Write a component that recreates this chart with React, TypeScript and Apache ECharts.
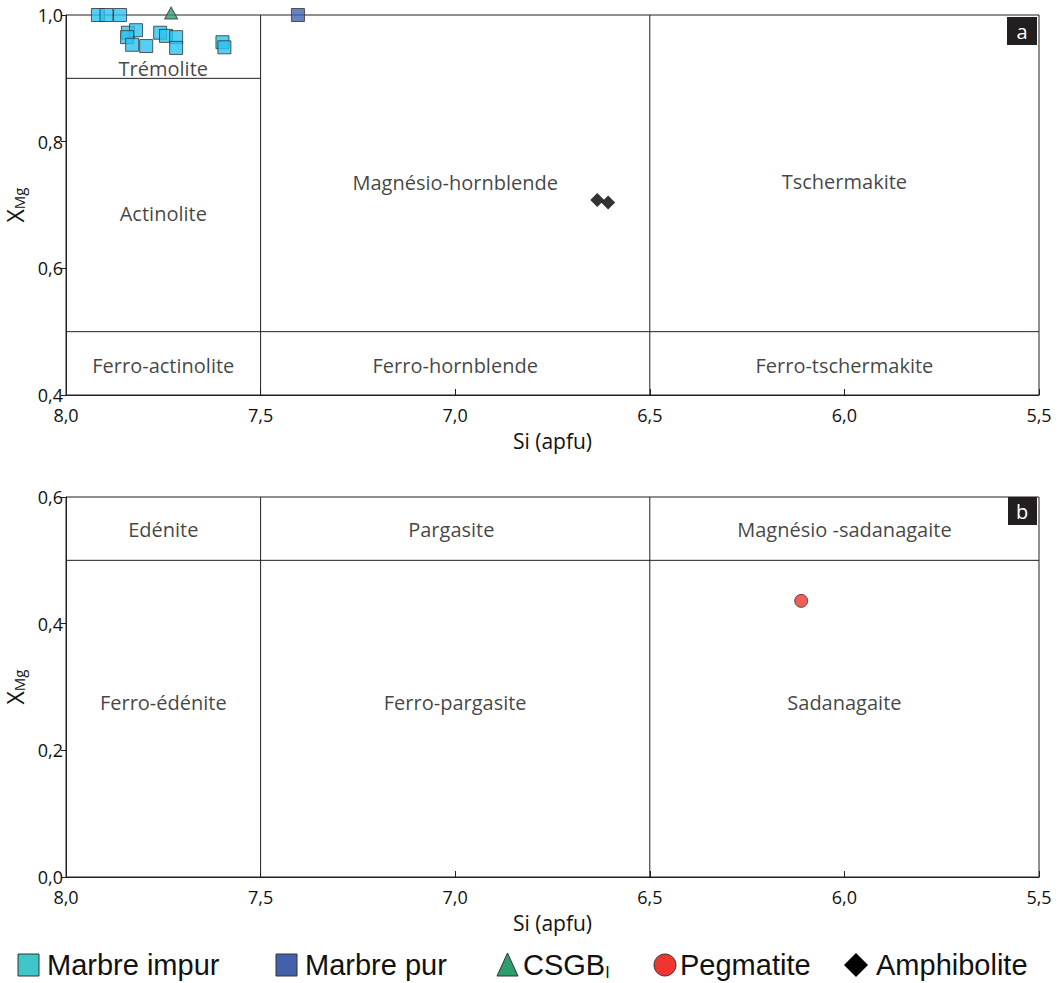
import React, { useEffect, useRef } from "react";
import * as echarts from "echarts";

// ---------- data ----------
const marbreImpur: [number, number][] = [
  [7.918, 1.0], [7.896, 1.0], [7.861, 1.0],
  [7.841, 0.972], [7.820, 0.976], [7.843, 0.965], [7.830, 0.953],
  [7.794, 0.951], [7.758, 0.972], [7.743, 0.967], [7.717, 0.965],
  [7.717, 0.948], [7.598, 0.957], [7.593, 0.949],
];
const marbrePur: [number, number][] = [[7.404, 1.0]];
const csgb: [number, number][] = [[7.73, 1.0]];
const amphibolite: [number, number][] = [[6.635, 0.708], [6.607, 0.704]];
const pegmatite: [number, number][] = [[6.111, 0.436]];

// field boundaries: [Si1, X1, Si2, X2]
const boundsA: [number, number, number, number][] = [
  [7.5, 0.4, 7.5, 1.0],
  [6.5, 0.4, 6.5, 1.0],
  [8.0, 0.9, 7.5, 0.9],
  [8.0, 0.5, 5.5, 0.5],
];
const boundsB: [number, number, number, number][] = [
  [7.5, 0.0, 7.5, 0.6],
  [6.5, 0.0, 6.5, 0.6],
  [8.0, 0.5, 5.5, 0.5],
];

// field names: [Si, X, name]
const fieldsA: [number, number, string][] = [
  [7.75, 0.916, "Trémolite"],
  [7.75, 0.687, "Actinolite"],
  [7.0, 0.736, "Magnésio-hornblende"],
  [6.0, 0.737, "Tschermakite"],
  [7.75, 0.446, "Ferro-actinolite"],
  [7.0, 0.446, "Ferro-hornblende"],
  [6.0, 0.446, "Ferro-tschermakite"],
];
const fieldsB: [number, number, string][] = [
  [7.75, 0.549, "Edénite"],
  [7.01, 0.549, "Pargasite"],
  [6.0, 0.549, "Magnésio -sadanagaite"],
  [7.75, 0.275, "Ferro-édénite"],
  [7.0, 0.275, "Ferro-pargasite"],
  [6.0, 0.275, "Sadanagaite"],
];

const xTicks = { min: 5.5, max: 8.0, interval: 0.5 };
const yTicksA = { min: 0.4, max: 1.0, interval: 0.2 };
const yTicksB = { min: 0.0, max: 0.6, interval: 0.2 };

const FONT = "'Open Sans', 'Noto Sans', sans-serif";
const INK = "#231F20";
const TXT = "#111";

function fmt(v: number) {
  return v.toFixed(1).replace(".", ",");
}

export default function App() {
  const ref = useRef<HTMLDivElement>(null);
  useEffect(() => {
    if (!ref.current) return;
    const chart = echarts.init(ref.current, undefined, { renderer: "svg" });

    const grids = [
      { left: 66, top: 15, width: 973, height: 380 },
      { left: 66, top: 497, width: 973, height: 380 },
    ].map((g) => ({
      ...g,
      show: true,
      borderColor: INK,
      borderWidth: 1,
      backgroundColor: "transparent",
      containLabel: false,
      outerBoundsMode: "none",
    }));

    const xAxisBase = (gi: number) => ({
      type: "value" as const,
      gridIndex: gi,
      inverse: true,
      ...xTicks,
      name: "Si (apfu)",
      nameLocation: "middle" as const,
      nameGap: 35,
      nameTextStyle: { fontFamily: FONT, fontSize: 21, color: TXT },
      axisLine: { show: true, lineStyle: { color: INK, width: 1 } },
      axisTick: { show: true, inside: true, length: 6, lineStyle: { color: INK } },
      axisLabel: { formatter: fmt, fontFamily: FONT, fontSize: 18, lineHeight: 15, color: TXT, margin: 12 },
      splitLine: { show: false },
    });
    const yAxisBase = (gi: number, t: any) => ({
      type: "value" as const,
      gridIndex: gi,
      ...t,
      name: "{x|X}{s|Mg}",
      nameLocation: "middle" as const,
      nameRotate: 90,
      nameGap: 28,
      nameTextStyle: {
        fontFamily: FONT,
        color: TXT,
        rich: {
          x: { fontFamily: FONT, fontSize: 23, color: TXT },
          s: { fontFamily: FONT, fontSize: 15, color: TXT, verticalAlign: "bottom", padding: [8, 0, 0, 0] },
        },
      },
      axisLine: { show: true, lineStyle: { color: INK, width: 1 } },
      axisTick: { show: true, inside: false, length: 5, lineStyle: { color: INK } },
      axisLabel: { formatter: fmt, fontFamily: FONT, fontSize: 18, lineHeight: 14, color: TXT, margin: 3 },
      splitLine: { show: false },
    });

    const lineSeries = (bounds: [number, number, number, number][], gi: number) =>
      bounds.map((b) => ({
        type: "line" as const,
        xAxisIndex: gi,
        yAxisIndex: gi,
        data: [[b[0], b[1]], [b[2], b[3]]],
        symbol: "none",
        lineStyle: { color: INK, width: 1 },
        silent: true,
        z: 1,
      }));
    const labelSeries = (fields: [number, number, string][], gi: number) => ({
      type: "scatter" as const,
      xAxisIndex: gi,
      yAxisIndex: gi,
      data: fields.map((f) => ({ value: [f[0], f[1]], name: f[2] })),
      symbolSize: 0,
      label: {
        show: true,
        position: "inside",
        formatter: (p: any) => p.name,
        fontFamily: FONT,
        fontSize: 20,
        color: TXT,
      },
      silent: true,
      z: 2,
    });
    const markerBorder = { borderColor: "#333", borderWidth: 1 };

    const legendY = 965;
    const legendFont = "'Liberation Sans', Arial, sans-serif";
    const lt = (x: number, text: string) => ({
      type: "text",
      x,
      y: legendY,
      style: { text, fontFamily: legendFont, fontSize: 29, fill: TXT, verticalAlign: "middle", align: "left" },
    });

    chart.setOption({
      animation: false,
      backgroundColor: "#fff",
      grid: grids,
      xAxis: [xAxisBase(0), xAxisBase(1)],
      yAxis: [yAxisBase(0, yTicksA), yAxisBase(1, yTicksB)],
      series: [
        ...lineSeries(boundsA, 0),
        ...lineSeries(boundsB, 1),
        labelSeries(fieldsA, 0),
        labelSeries(fieldsB, 1),
        {
          name: "Marbre impur",
          type: "scatter",
          xAxisIndex: 0,
          yAxisIndex: 0,
          data: marbreImpur,
          symbol: "rect",
          symbolSize: 13,
          itemStyle: { color: "#2BC3F0", ...markerBorder },
          z: 5,
        },
        {
          name: "Marbre pur",
          type: "scatter",
          xAxisIndex: 0,
          yAxisIndex: 0,
          data: marbrePur,
          symbol: "rect",
          symbolSize: 13,
          itemStyle: { color: "#4361AB", ...markerBorder },
          z: 5,
        },
        {
          name: "CSGB",
          type: "scatter",
          xAxisIndex: 0,
          yAxisIndex: 0,
          data: csgb,
          symbol: "triangle",
          symbolSize: [13, 12],
          symbolOffset: [0, -2],
          itemStyle: { color: "#2E9E6E", ...markerBorder },
          z: 5,
        },
        {
          name: "Amphibolite",
          type: "scatter",
          xAxisIndex: 0,
          yAxisIndex: 0,
          data: amphibolite,
          symbol: "diamond",
          symbolSize: [14, 14],
          itemStyle: { color: "#000" },
          z: 5,
        },
        {
          name: "Pegmatite",
          type: "scatter",
          xAxisIndex: 1,
          yAxisIndex: 1,
          data: pegmatite,
          symbol: "circle",
          symbolSize: 13,
          itemStyle: { color: "#EE3530", ...markerBorder },
          z: 5,
        },
      ],
      graphic: [
        // panel letters
        { type: "rect", shape: { x: 1007, y: 17, width: 30, height: 28 }, style: { fill: INK } },
        { type: "text", x: 1022, y: 31, style: { text: "a", fontFamily: FONT, fontSize: 20, fill: "#fff", align: "center", verticalAlign: "middle" } },
        { type: "rect", shape: { x: 1008, y: 497, width: 29, height: 28 }, style: { fill: INK } },
        { type: "text", x: 1022, y: 511, style: { text: "b", fontFamily: FONT, fontSize: 20, fill: "#fff", align: "center", verticalAlign: "middle" } },
        // legend
        { type: "rect", shape: { x: 18, y: 954, width: 21, height: 22 }, style: { fill: "#3EC6C8", stroke: "#333", lineWidth: 1 } },
        lt(47, "Marbre impur"),
        { type: "rect", shape: { x: 276, y: 954, width: 21, height: 22 }, style: { fill: "#4361AB", stroke: "#333", lineWidth: 1 } },
        lt(305, "Marbre pur"),
        { type: "polygon", shape: { points: [[497, 976], [518, 976], [507.5, 953]] }, style: { fill: "#2E9E6E", stroke: "#333", lineWidth: 1 } },
        {
          type: "text",
          x: 523,
          y: legendY,
          style: {
            text: "{a|CSGB}{s|I}",
            fontFamily: legendFont,
            fill: TXT,
            verticalAlign: "middle",
            align: "left",
            rich: {
              a: { fontFamily: legendFont, fontSize: 29, fill: TXT },
              s: { fontFamily: legendFont, fontSize: 16, fill: TXT, padding: [14, 0, 0, 0] },
            },
          },
        },
        { type: "circle", shape: { cx: 665, cy: 965, r: 11 }, style: { fill: "#EE3530", stroke: "#333", lineWidth: 1 } },
        lt(680, "Pegmatite"),
        { type: "polygon", shape: { points: [[856, 953], [868, 965], [856, 977], [844, 965]] }, style: { fill: "#000" } },
        lt(876, "Amphibolite"),
      ],
    });
    return () => chart.dispose();
  }, []);
  return <div ref={ref} style={{ width: 1058, height: 983, position: "absolute", left: 0, top: 0 }} />;
}
